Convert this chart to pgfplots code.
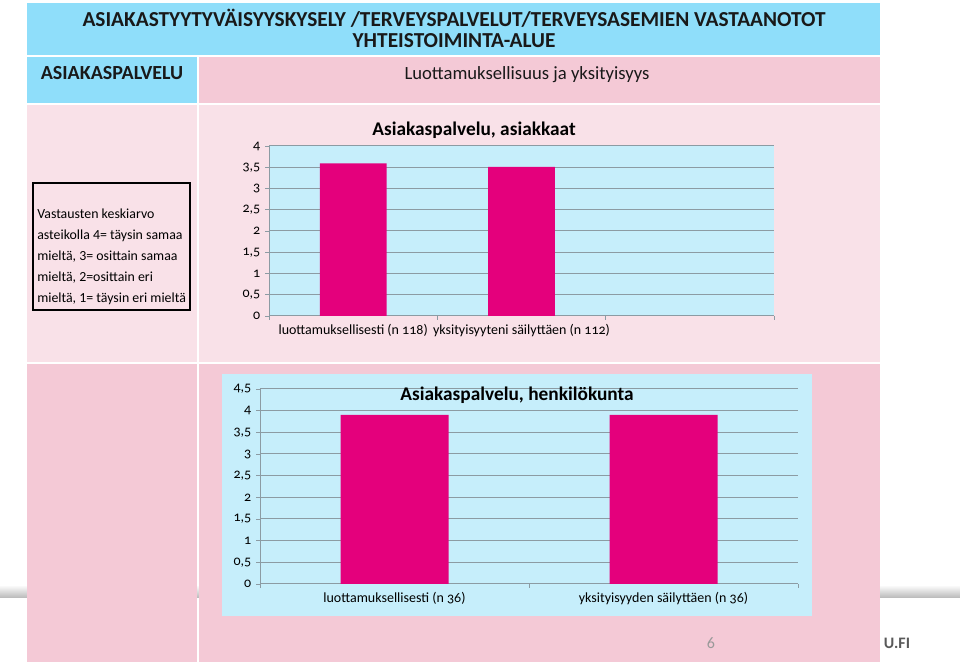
\documentclass[border=0pt]{standalone}
\usepackage{pgfplots}
\pgfplotsset{compat=1.18}
\usepackage{fontspec}
\setmainfont{Carlito}
\newfontfamily\numfont[Numbers=OldStyle]{Carlito}
\definecolor{hdrblue}{HTML}{8FDEFA}
\definecolor{pinkA}{HTML}{F4C9D6}
\definecolor{pinkB}{HTML}{F9E1E8}
\definecolor{chartblue}{HTML}{C6EEFB}
\definecolor{barmag}{HTML}{E4007C}
\definecolor{gridc}{HTML}{8C9BA3}
\pgfplotsset{
 slidebar/.style={
  scale only axis, ybar,
  axis background/.style={fill=chartblue},
  axis x line*=bottom, axis y line*=left,
  axis line style={gridc, line width=0.75pt},
  ymin=0, xmin=0,
  ymajorgrids, grid style={gridc, line width=0.75pt},
  tick align=outside, major tick length=3pt, minor tick length=3pt,
  ytick style={gridc, line width=0.6pt},
  major x tick style={draw=none},
  minor x tick style={draw=gridc, line width=0.6pt},
  /pgf/number format/assume math mode=true,
  yticklabel style={font=\numfont\fontsize{10.5}{11}\selectfont, text=black},
  xticklabel style={font=\numfont\fontsize{10.5}{12}\selectfont, text=black},
 }
}
\begin{document}
\begin{tikzpicture}
\begin{scope}[x=0.75pt,y=0.75pt]
% page
\fill[white] (0,0) rectangle (960,671);
\shade[top color=white, bottom color=black!28] (0,73) rectangle (960,86);
% table cells
\fill[hdrblue] (27,616) rectangle (880,668);
\fill[hdrblue] (27,568) rectangle (197,614);
\fill[pinkA] (199,568) rectangle (880,614);
\fill[pinkB] (27,309) rectangle (197,566);
\fill[pinkB] (199,309) rectangle (880,566);
\fill[pinkA] (27,9) rectangle (197,307);
\fill[pinkA] (199,9) rectangle (880,307);
% header texts
\node[font=\bfseries\fontsize{16}{18}\selectfont, text=black!90] at (454,653) {ASIAKASTYYTYVÄISYYSKYSELY /TERVEYSPALVELUT/TERVEYSASEMIEN VASTAANOTOT};
\node[font=\bfseries\fontsize{16}{18}\selectfont, text=black!90] at (454,630) {YHTEISTOIMINTA-ALUE};
\node[font=\bfseries\fontsize{15}{17}\selectfont, text=black!90] at (112,598) {ASIAKASPALVELU};
\node[font=\fontsize{14}{16}\selectfont, text=black!90] at (527,596) {Luottamuksellisuus ja yksityisyys};
% legend box
\draw[black, line width=0.9pt] (33,361) rectangle (190,488);
\node[anchor=west, align=left, inner sep=0pt, font=\fontsize{10.4}{15.75}\selectfont] at (37,414) {Vastausten keskiarvo\\asteikolla 4= täysin samaa\\mieltä, 3= osittain samaa\\mieltä, 2=osittain eri\\mieltä, 1= täysin eri mieltä};
\fill[chartblue] (222,55) rectangle (812,297);
\end{scope}
% chart 1
\begin{axis}[slidebar, at={(201.75pt,266.25pt)}, anchor=south west,
  width=378.75pt, height=127.5pt,
  xmax=3, ymax=4, ytick={0,0.5,...,4},
  yticklabels={0,{0,5},1,{1,5},2,{2,5},3,{3,5},4},
  xtick={0.5,1.5,2.5}, minor xtick={0,1,2,3},
  xticklabels={luottamuksellisesti (n 118), yksityisyyteni säilyttäen (n 112), {}},
  bar width=50pt]
\addplot[fill=barmag, draw=none] coordinates {(0.5,3.59) (1.5,3.51)};
\end{axis}
% chart 2
\begin{axis}[slidebar, at={(195pt,65.25pt)}, anchor=south west,
  width=403.5pt, height=146.25pt,
  xmax=2, ymax=4.5, ytick={0,0.5,...,4.5},
  yticklabels={0,{0,5},1,{1,5},2,{2,5},3,{3,5},4,{4,5}},
  xtick={0.5,1.5}, minor xtick={0,1,2},
  xticklabels={luottamuksellisesti (n 36), yksityisyyden säilyttäen (n 36)},
  bar width=81pt]
\addplot[fill=barmag, draw=none] coordinates {(0.5,3.9) (1.5,3.9)};
\end{axis}
\begin{scope}[x=0.75pt,y=0.75pt]
\node[font=\bfseries\fontsize{14.5}{16}\selectfont] at (474,541) {Asiakaspalvelu, asiakkaat};
\node[font=\bfseries\fontsize{14.5}{16}\selectfont] at (517,276) {Asiakaspalvelu, henkilökunta};
% footer
\node[font=\fontsize{12}{14}\selectfont, text=black!40] at (711,28) {6};
\node[font=\bfseries\fontsize{12}{14}\selectfont, text=black!65] at (897,28) {U.FI};
\end{scope}
\end{tikzpicture}
\end{document}
